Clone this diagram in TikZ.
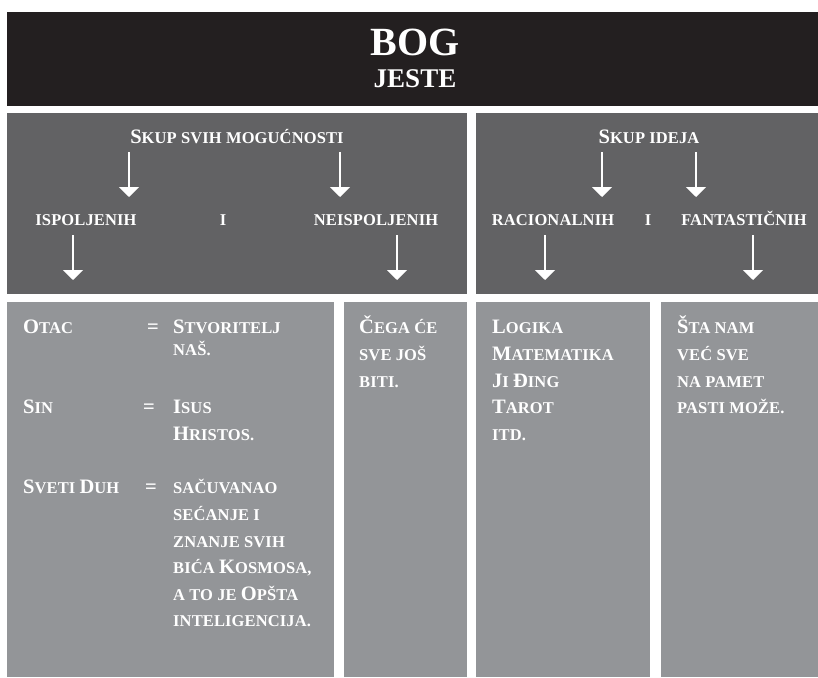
\documentclass[tikz,border=0pt]{standalone}
\usepackage{fontspec}
\setmainfont{Liberation Serif}
\newfontfamily\lsfont{Liberation Serif}[LetterSpace=0.8]
\usetikzlibrary{arrows.meta}
\definecolor{bandblack}{HTML}{231F20}
\definecolor{darkpanel}{HTML}{626264}
\definecolor{lightpanel}{HTML}{939598}
\newcommand\Bg[1]{{\fontsize{20.5}{20}\selectfont #1}}
\begin{document}
\begin{tikzpicture}[x=1pt,y=-1pt,
  txt/.style={text=white,font=\lsfont\bfseries\fontsize{16.5}{18}\selectfont,inner sep=0pt,anchor=base west},
  txtc/.style={txt,anchor=base},
  darr/.style={draw=white,line width=1.8pt,-{Triangle[width=20pt,length=10pt]}},
  ttl/.style={text=white,inner sep=0pt,anchor=base}
]
\useasboundingbox (0,0) rectangle (818,677);
% panels
\fill[bandblack] (7,12) rectangle (818,106);
\fill[darkpanel] (7,113) rectangle (467,294);
\fill[darkpanel] (476,113) rectangle (818,294);
\fill[lightpanel] (7,302) rectangle (334,677);
\fill[lightpanel] (344,302) rectangle (467,677);
\fill[lightpanel] (476,302) rectangle (650,677);
\fill[lightpanel] (661,302) rectangle (818,677);
% title
\node[ttl,font=\bfseries\fontsize{40}{40}\selectfont] (bog) at (415,56) {BOG};
\node[ttl,font=\bfseries\fontsize{27}{27}\selectfont] (jeste) at (415,87) {JESTE};
% left header
\node[txtc] (skup1) at (237,143) {\Bg{S}KUP SVIH MOGUĆNOSTI};
\node[txtc] (isp) at (86,225) {ISPOLJENIH};
\node[txtc] (i1) at (223,225) {I};
\node[txtc] (neisp) at (376,225) {NEISPOLJENIH};
% right header
\node[txtc] (skup2) at (649,143) {\Bg{S}KUP IDEJA};
\node[txtc] (rac) at (553,225) {RACIONALNIH};
\node[txtc] (i2) at (648,225) {I};
\node[txtc] (fan) at (744,225) {FANTASTIČNIH};
% arrow coordinates
\coordinate (a1s) at (129,152); \coordinate (a1e) at (129,197);
\coordinate (a2s) at (340,152); \coordinate (a2e) at (340,197);
\coordinate (a3s) at (73,235);  \coordinate (a3e) at (73,280);
\coordinate (a4s) at (397,235); \coordinate (a4e) at (397,280);
\coordinate (b1s) at (602,152); \coordinate (b1e) at (602,197);
\coordinate (b2s) at (696,152); \coordinate (b2e) at (696,197);
\coordinate (b3s) at (545,235); \coordinate (b3e) at (545,280);
\coordinate (b4s) at (753,235); \coordinate (b4e) at (753,280);
\foreach \s/\e in {a1s/a1e,a2s/a2e,a3s/a3e,a4s/a4e,b1s/b1e,b2s/b2e,b3s/b3e,b4s/b4e}
  \draw[darr] (\s) -- (\e);
% panel 1
\node[txt] (otac) at (23,333) {\Bg{O}TAC};
\node[txtc] (eq1) at (153,333) {\Bg{=}};
\node[txt] (stv) at (173,333) {\Bg{S}TVORITELJ};
\node[txt] (nas) at (173,355) {NAŠ.};
\node[txt] (sin) at (23,413) {\Bg{S}IN};
\node[txtc] (eq2) at (149,413) {\Bg{=}};
\node[txt] (isus) at (173,413) {\Bg{I}SUS};
\node[txt] (hri) at (173,440) {\Bg{H}RISTOS.};
\node[txt] (sveti) at (23,493) {\Bg{S}VETI \Bg{D}UH};
\node[txtc] (eq3) at (151,493) {\Bg{=}};
\node[txt] (sac) at (173,493) {SAČUVANAO};
\node[txt] (sec) at (173,520) {SEĆANJE I};
\node[txt] (zna) at (173,547) {ZNANJE SVIH};
\node[txt] (bic) at (173,573) {BIĆA \Bg{K}OSMOSA,};
\node[txt] (ato) at (173,600) {A TO JE \Bg{O}PŠTA};
\node[txt] (int) at (173,626) {INTELIGENCIJA.};
% panel 2
\node[txt] (cega) at (359,333) {\Bg{Č}EGA ĆE};
\node[txt] (svej) at (359,360) {SVE JOŠ};
\node[txt] (biti) at (359,387) {BITI.};
% panel 3
\node[txt] (log) at (492,333) {\Bg{L}OGIKA};
\node[txt] (mat) at (492,360) {\Bg{M}ATEMATIKA};
\node[txt] (jid) at (492,387) {\Bg{J}I \Bg{Đ}ING};
\node[txt] (tar) at (492,413) {\Bg{T}AROT};
\node[txt] (itd) at (492,440) {ITD.};
% panel 4
\node[txt] (sta) at (677,333) {\Bg{Š}TA NAM};
\node[txt] (vec) at (677,360) {VEĆ SVE};
\node[txt] (nap) at (677,387) {NA PAMET};
\node[txt] (pas) at (677,413) {PASTI MOŽE.};
\end{tikzpicture}
\end{document}
